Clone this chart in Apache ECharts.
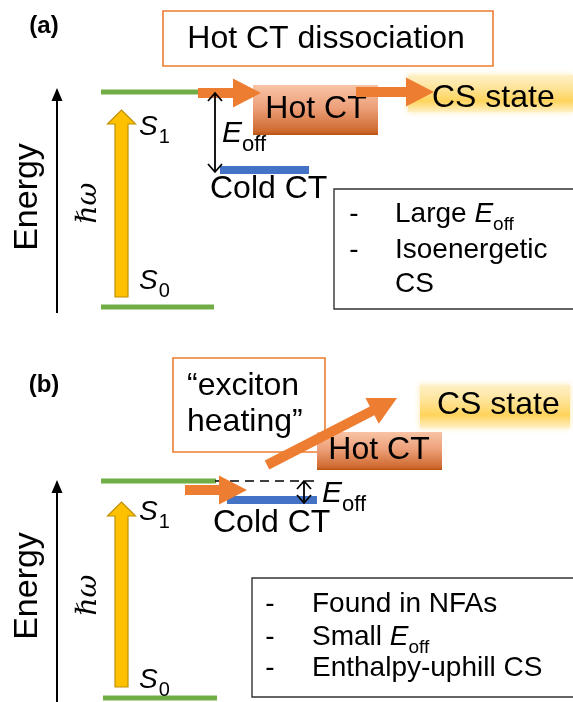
<!DOCTYPE html>
<html><head><meta charset="utf-8">
<script src="https://cdn.jsdelivr.net/npm/echarts@6/dist/echarts.min.js"></script>
<style>html,body{margin:0;padding:0;background:#fff}#c{width:573px;height:702px}</style>
</head><body><div id="c"></div>
<script>
// ---- diagram data (diagram units = canvas pixels, y downward) ----
const stateLevels    = [[101,200,92],[101,214,307],[101,216,481],[103,217,698]];   // S1/S0 levels: x1,x2,y
const coldCTLevels   = [[220,309,170],[227,317,500]];                              // cold CT levels
const dashedLevels   = [[215,317,481]];                                            // S1 reference (b)
const energyAxes     = [[57,313,88],[57,702,480]];                                 // x, yBottom, yTop
const photonArrows   = [[121.5,297,110],[121.5,687,502]];                          // x, yBottom, yTop
const transferArrows = [[198,93,261,93],[356,92,434,92],[185,490,247,490],[267,465,397,398]]; // x1,y1,x2,y2
const offsetArrows   = [[215,93,172],[304,481,503]];                               // x, y1, y2 (E_off)
const frameBoxes     = [[163,11,493,66],[173,358,325,452]];                        // orange frames
const noteBoxes      = [[334,189,590,309],[252,578,590,697]];                      // black frames
const hotCTBoxes     = [[253,85,378,135],[317,432,442,470]];
const csBoxes        = [[408,75,573,112],[420,385,570,428]];
const labelTexts = ['(a)','(b)','Hot CT dissociation','Hot CT','CS state','Cold CT','Energy','\u210Fω',
  '{i|S}{s|1}','{i|S}{s|0}','{i|E}{s|off}','-','Large {i|E}{s|off}','-','Isoenergetic','CS',
  '“exciton','heating”','Hot CT','CS state','Cold CT','Energy','\u210Fω','{i|S}{s|1}','{i|S}{s|0}','{i|E}{s|off}',
  '-','Found in NFAs','-','Small {i|E}{s|off}','-','Enthalpy-uphill CS'];
const labelAnchors = [[44,26],[44,385],[326,39],[316,109],[432,98],[210,189],[28,197],[89,203],
  [139,127],[139,281],[222,134],[354,214],[395,214],[354,250],[395,250],[395,284],
  [187,386],[187,422],[379,450],[437,405],[213,523],[28,586],[89,595],[139,512],[139,680],[322,494],
  [270,604],[312,604],[270,637],[312,637],[270,668],[312,668]];
const labelKinds = ['panel','panel','bigc','bigc','big','big','axis','hw',
  'state','state','eoff','dash','bullet','dash','bullet','bullet',
  'big','big','bigc','big','big','axis','hw','state','state','eoff',
  'dash','bullet','dash','bullet','dash','bullet'];

const SANS = '"Liberation Sans", Arial, sans-serif';
const SERIF = '"DejaVu Serif", "Liberation Serif", serif';
const KIND = {
  panel: {size:24, weight:'bold', align:'center'},
  bigc:  {size:32, align:'center'},
  big:   {size:32, align:'left'},
  axis:  {size:34, align:'center', rot:90},
  hw:    {size:28, family:SERIF, italic:true, align:'center', rot:90},
  state: {size:28, align:'left', rich:{i:{fontSize:28,fontStyle:'italic',fontFamily:SANS}, s:{fontSize:20,fontFamily:SANS,padding:[21,0,0,1]}}},
  eoff:  {size:30, align:'left', rich:{i:{fontSize:30,fontStyle:'italic',fontFamily:SANS}, s:{fontSize:22,fontFamily:SANS,padding:[21,0,0,0]}}},
  dash:  {size:28, align:'center'},
  bullet:{size:28, align:'left', rich:{i:{fontSize:28,fontStyle:'italic',fontFamily:SANS}, s:{fontSize:19,fontFamily:SANS,padding:[22,0,0,0]}}}
};
const C = {green:'#70ad47', blue:'#4472c4', orange:'#ed7d31', yellow:'#ffc000', yellowEdge:'#bf9000'};

function blockArrow(p1,p2,shaft,headW,headL){
  const dx=p2[0]-p1[0], dy=p2[1]-p1[1], L=Math.hypot(dx,dy);
  const ux=dx/L, uy=dy/L, nx=-uy, ny=ux;
  const bx=p2[0]-ux*headL, by=p2[1]-uy*headL;
  return [[p1[0]+nx*shaft/2,p1[1]+ny*shaft/2],[bx+nx*shaft/2,by+ny*shaft/2],[bx+nx*headW/2,by+ny*headW/2],
          [p2[0],p2[1]],[bx-nx*headW/2,by-ny*headW/2],[bx-nx*shaft/2,by-ny*shaft/2],[p1[0]-nx*shaft/2,p1[1]-ny*shaft/2]];
}
function rectOf(api,d){const a=api.coord([d[0],d[1]]), b=api.coord([d[2],d[3]]);return {x:a[0],y:a[1],width:b[0]-a[0],height:b[1]-a[1]};}

function customSeries(name, arr, render, z){
  return {type:'custom', name, z:z||2, silent:true, animation:false, clip:false,
    data: arr.map(d => [typeof d[0]==='number'?d[0]:0, typeof d[1]==='number'?d[1]:0]),
    renderItem:(params,api)=>render(arr[params.dataIndex], api, params.dataIndex)};
}

const series = [
  customSeries('frames', frameBoxes, (d,api)=>({type:'rect', shape:rectOf(api,d), style:{fill:'#fff', stroke:C.orange, lineWidth:1.6}}),1),
  customSeries('notes', noteBoxes, (d,api)=>({type:'rect', shape:rectOf(api,d), style:{fill:'#fff', stroke:'#333', lineWidth:1.4}}),1),
  customSeries('hotCT', hotCTBoxes, (d,api)=>({type:'rect', shape:rectOf(api,d), style:{
      fill:{type:'linear',x:0,y:0,x2:0,y2:1,colorStops:[{offset:0,color:'#f8c4a6'},{offset:0.45,color:'#eda07a'},{offset:0.92,color:'#cf6a30'},{offset:1,color:'#b9520f'}]}}}),2),
  customSeries('cs', csBoxes, (d,api)=>({type:'rect', shape:rectOf(api,d), style:{
      fill:{type:'linear',x:0,y:0,x2:0,y2:1,colorStops:[{offset:0,color:'#fff1c8'},{offset:0.35,color:'#fee49a'},{offset:0.7,color:'#ffd45c'},{offset:1,color:'#fff0c6'}]},
      shadowBlur:6, shadowColor:'rgba(255,214,100,0.55)'}}),2),
  customSeries('stateLevels', stateLevels, (d,api)=>{const a=api.coord([d[0],d[2]]),b=api.coord([d[1],d[2]]);
      return {type:'line', shape:{x1:a[0],y1:a[1],x2:b[0],y2:b[1]}, style:{stroke:C.green, lineWidth:5}};},3),
  customSeries('coldCT', coldCTLevels, (d,api)=>{const a=api.coord([d[0],d[2]]),b=api.coord([d[1],d[2]]);
      return {type:'line', shape:{x1:a[0],y1:a[1],x2:b[0],y2:b[1]}, style:{stroke:C.blue, lineWidth:8}};},3),
  customSeries('dashed', dashedLevels, (d,api)=>{const a=api.coord([d[0],d[2]]),b=api.coord([d[1],d[2]]);
      return {type:'line', shape:{x1:a[0],y1:a[1],x2:b[0],y2:b[1]}, style:{stroke:'#000', lineWidth:1.5, lineDash:[9,6]}};},3),
  customSeries('energyAxes', energyAxes, (d,api)=>{const a=api.coord([d[0],d[1]]),b=api.coord([d[0],d[2]]);
      return {type:'group', children:[
        {type:'line', shape:{x1:a[0],y1:a[1],x2:b[0],y2:b[1]+8}, style:{stroke:'#000', lineWidth:2}},
        {type:'polygon', shape:{points:[[b[0],b[1]],[b[0]-5.5,b[1]+13],[b[0]+5.5,b[1]+13]]}, style:{fill:'#000'}}]};},3),
  customSeries('photon', photonArrows, (d,api)=>{const a=api.coord([d[0],d[1]]),b=api.coord([d[0],d[2]]);
      return {type:'polygon', shape:{points:blockArrow(a,b,13,28,14)}, style:{fill:C.yellow, stroke:C.yellowEdge, lineWidth:1.2}};},3),
  customSeries('labels', labelTexts, (d,api,i)=>{
      const k=KIND[labelKinds[i]], p=api.coord(labelAnchors[i]);
      return {type:'text', x:p[0], y:p[1], rotation:k.rot?k.rot*Math.PI/180:0,
        style:{text:d, fill:'#000', fontSize:k.size, fontFamily:k.family||SANS, fontWeight:k.weight||'normal',
          fontStyle:k.italic?'italic':'normal', align:k.align, verticalAlign:'middle', rich:k.rich}};},4),
  customSeries('transfer', transferArrows, (d,api)=>{const a=api.coord([d[0],d[1]]),b=api.coord([d[2],d[3]]);
      return {type:'polygon', shape:{points:blockArrow(a,b,10,29,28)}, style:{fill:C.orange}};},5),
  customSeries('offset', offsetArrows, (d,api)=>{const a=api.coord([d[0],d[1]]),b=api.coord([d[0],d[2]]);
      const h=Math.min(8,(b[1]-a[1])/2.6), w=Math.min(7,h+1);
      return {type:'group', children:[
        {type:'line', shape:{x1:a[0],y1:a[1],x2:b[0],y2:b[1]}, style:{stroke:'#000', lineWidth:1.8}},
        {type:'polyline', shape:{points:[[a[0]-w,a[1]+h],[a[0],a[1]],[a[0]+w,a[1]+h]]}, style:{stroke:'#000', lineWidth:1.8, fill:null}},
        {type:'polyline', shape:{points:[[b[0]-w,b[1]-h],[b[0],b[1]],[b[0]+w,b[1]-h]]}, style:{stroke:'#000', lineWidth:1.8, fill:null}}]};},5)
];

const chart = echarts.init(document.getElementById('c'), null, {renderer:'canvas'});
chart.setOption({
  animation:false, backgroundColor:'#fff',
  grid:{left:0,right:0,top:0,bottom:0},
  xAxis:{type:'value', min:0, max:573, show:false},
  yAxis:{type:'value', min:0, max:702, inverse:true, show:false},
  series
});
</script></body></html>
